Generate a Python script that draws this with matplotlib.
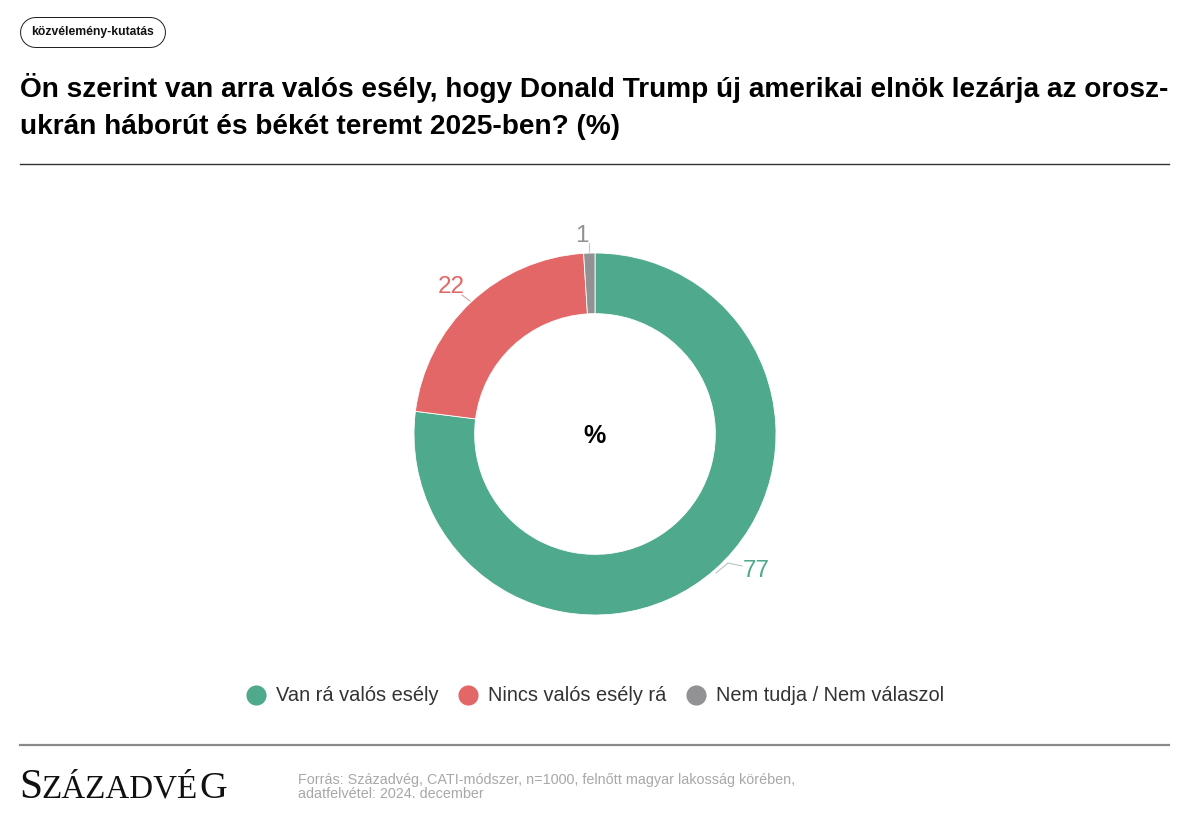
# -*- coding: utf-8 -*-
"""Donut chart: real chance of peace in the Russia-Ukraine war in 2025 (%)."""

import matplotlib
matplotlib.use("Agg")
import matplotlib.pyplot as plt

W, H = 1193, 818
PX = 72 / 100  # one pixel in points at dpi=100

categories = ["Van rá valós esély", "Nincs valós esély rá", "Nem tudja / Nem válaszol"]
values = [77, 22, 1]
colors = ["#4fa98c", "#e46767", "#929294"]

tag_text = "közvélemény-kutatás"
title_lines = [
    "Ön szerint van arra valós esély, hogy Donald Trump új amerikai elnök lezárja az orosz-",
    "ukrán háborút és békét teremt 2025-ben? (%)",
]
source_lines = [
    "Forrás: Századvég, CATI-módszer, n=1000, felnőtt magyar lakosság körében,",
    "adatfelvétel: 2024. december",
]

plt.rcParams["font.family"] = ["Liberation Sans", "DejaVu Sans"]

fig = plt.figure(figsize=(W / 100, H / 100), dpi=100, facecolor="white")

# page layer in pixel coords, y going down
bg = fig.add_axes([0, 0, 1, 1])
bg.set_xlim(0, W)
bg.set_ylim(H, 0)
bg.axis("off")

# pill: dark round-capped line with a white one on top
bg.plot([35, 150], [32, 32], color="#222222", lw=31 * PX, solid_capstyle="round")
bg.plot([35, 150], [32, 32], color="white", lw=29 * PX, solid_capstyle="round")
bg.text(92.5, 32, tag_text, ha="center", va="center", fontsize=8.7, fontweight="bold",
        color="#111111")

for txt, y in zip(title_lines, [88, 127]):
    bg.text(20, y, txt, ha="left", va="center", fontsize=20.2, fontweight="bold",
            color="black")

bg.plot([20, 1169], [163.5, 163.5], color="#333333", lw=1.0)
bg.plot([20, 1169], [745, 745], color="#8a8a8a", lw=1.6)

# donut
cx, cy, r = 595, 434, 181
ax = fig.add_axes([(cx - r) / W, 1 - (cy + r) / H, 2 * r / W, 2 * r / H])
ax.pie(values, colors=colors, startangle=90, counterclock=False, radius=1.0,
       wedgeprops=dict(width=0.335, edgecolor="white", linewidth=0.6))
ax.set_xlim(-1, 1)
ax.set_ylim(-1, 1)
ax.set_aspect("equal")

fig.text(cx / W, 1 - 436 / H, "%", ha="center", va="center", fontsize=18, fontweight="bold",
         color="black", zorder=5)

# value labels with leader lines
bg.plot([470, 462], [301, 295], color="#d9a0a0", lw=0.8)
bg.text(451, 287, str(values[1]), ha="center", va="center", fontsize=17.5, color=colors[1])
bg.plot([589, 589], [252, 243], color="#c4c4c4", lw=0.8)
bg.text(582, 236, str(values[2]), ha="center", va="center", fontsize=17.5, color=colors[2])
bg.plot([716, 728, 742], [573, 563, 566], color="#b8c4c0", lw=0.8)
bg.text(756, 571, str(values[0]), ha="center", va="center", fontsize=17.5, color=colors[0])

# legend
for x_dot, x_txt, cat, col in zip([256, 468, 696], [276, 488, 716], categories, colors):
    bg.plot([x_dot], [695], "o", ms=14.5, color=col, mew=0)
    bg.text(x_txt, 695.5, cat, ha="left", va="center", fontsize=14.4, color="#333333")

# footer
bg.text(19, 798, "S", ha="left", va="baseline", fontsize=30, family="Liberation Serif",
        color="#111111")
bg.text(41, 798, "ZÁZADVÉ", ha="left", va="baseline", fontsize=23.8, family="Liberation Serif",
        color="#111111")
bg.text(199, 798, "G", ha="left", va="baseline", fontsize=27.5, family="Liberation Serif",
        color="#111111")
for txt, y in zip(source_lines, [780, 794]):
    bg.text(298, y, txt, ha="left", va="center", fontsize=10.4, color="#a8a8a8")

fig.savefig("out.png", dpi=100, facecolor="white")
